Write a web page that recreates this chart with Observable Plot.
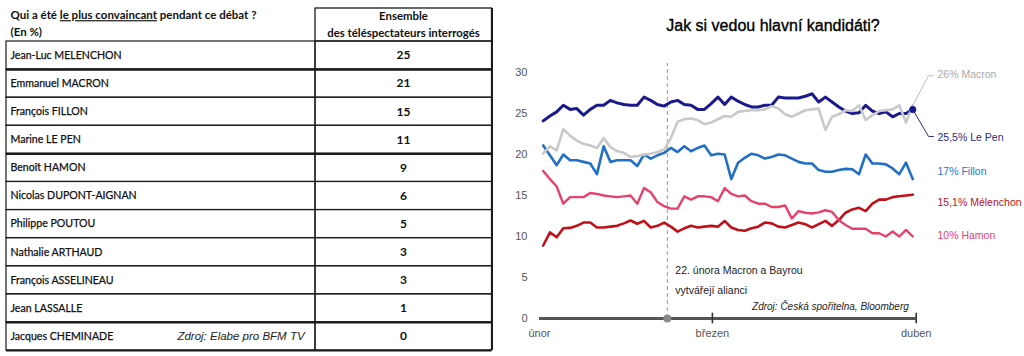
<!DOCTYPE html>
<html>
<head>
<meta charset="utf-8">
<script src="https://cdn.jsdelivr.net/npm/d3@7"></script>
<script src="https://cdn.jsdelivr.net/npm/@observablehq/plot@0.6"></script>
<style>
  html, body { margin: 0; padding: 0; background: #fff; }
  #wrap { position: relative; width: 1024px; height: 356px; overflow: hidden; background: #fff; }
  #tabulka { position: absolute; left: 0; top: 0; }
  #graf { position: absolute; left: 500px; top: 0; width: 524px; height: 356px; }
  #titulek { position: absolute; left: 0; top: 17px; width: 546px; text-align: center;
             font: 16px "Liberation Sans", Arial, sans-serif; color: #000; -webkit-text-stroke: 0.35px #000; }
  #grafSvg { position: absolute; left: 0; top: 52px; }
</style>
</head>
<body>
<div id="wrap">
  <div id="tabulka"></div>
  <div id="graf">
    <div id="titulek">Jak si vedou hlavní kandidáti?</div>
    <div id="grafSvg"></div>
  </div>
</div>
<script>
// ---------- Tabulka (Elabe pro BFM TV) ----------
const kandidati = ["Jean-Luc MELENCHON", "Emmanuel MACRON", "François FILLON", "Marine LE PEN",
  "Benoît HAMON", "Nicolas DUPONT-AIGNAN", "Philippe POUTOU", "Nathalie ARTHAUD",
  "François ASSELINEAU", "Jean LASSALLE", "Jacques CHEMINADE"];
const hodnoty = [25, 21, 15, 11, 9, 6, 5, 3, 3, 1, 0];
const otazka = "Qui a été le plus convaincant pendant ce débat ?";
const jednotka = "(En %)";
const hlavickaSloupce = ["Ensemble", "des téléspectateurs interrogés"];
const zdrojTabulky = "Zdroj: Elabe pro BFM TV";

// ---------- Graf (Česká spořitelna, Bloomberg) ----------
const mesiceTicks = [0, 28, 61];
const mesice = ["únor", "březen", "duben"];
const dny = [0.6, 1.69, 2.78, 3.86, 4.95, 6.04, 7.13, 8.22, 9.30, 10.39,
  11.48, 12.57, 13.66, 14.74, 15.83, 16.92, 18.01, 19.10, 20.18, 21.27,
  22.36, 23.45, 24.54, 25.62, 26.71, 27.80, 28.89, 29.98, 31.06, 32.15,
  33.24, 34.33, 35.42, 36.50, 37.59, 38.68, 39.77, 40.86, 41.94, 43.03,
  44.12, 45.21, 46.30, 47.38, 48.47, 49.56, 50.65, 51.74, 52.82, 53.91,
  55.00, 56.09, 57.18, 58.26, 59.35, 60.44];
const lePen = [24.1, 24.7, 25.2, 26.0, 25.5, 25.6, 24.8, 25.5, 26.0, 26.0,
  26.6, 26.3, 26.1, 26.0, 26.0, 27.0, 26.6, 26.1, 25.9, 26.4,
  26.6, 26.1, 26.0, 25.5, 25.5, 26.2, 27.0, 26.1, 27.0, 26.5,
  26.1, 25.8, 25.8, 26.0, 26.0, 27.0, 26.9, 26.9, 26.9, 27.1,
  27.4, 26.4, 27.0, 26.4, 25.8, 25.3, 25.0, 25.1, 26.0, 25.3,
  25.0, 25.2, 24.6, 25.0, 25.0, 25.5];
const macron = [20.1, 21.0, 20.5, 23.1, 22.3, 21.7, 21.3, 21.1, 20.8, 22.0,
  20.9, 20.4, 20.2, 19.7, 19.8, 20.0, 20.1, 20.3, 20.6, 22.0,
  24.0, 24.3, 24.4, 24.2, 23.7, 23.9, 24.3, 24.7, 24.6, 25.2,
  25.3, 25.4, 25.4, 25.5, 25.9, 25.6, 24.9, 24.6, 25.0, 25.4,
  25.5, 25.6, 23.0, 24.6, 24.9, 25.4, 25.3, 26.0, 24.2, 24.8,
  25.3, 25.4, 25.5, 26.0, 23.9, 26.0];
const fillon = [21.1, 19.9, 18.7, 20.0, 19.3, 19.3, 19.1, 18.9, 17.6, 21.0,
  19.1, 19.3, 19.3, 19.3, 18.6, 20.0, 19.5, 19.9, 20.2, 20.8,
  20.3, 21.0, 20.4, 20.8, 21.1, 19.9, 20.1, 20.0, 17.0, 19.0,
  19.6, 20.1, 19.9, 19.5, 19.7, 20.0, 19.9, 19.5, 19.1, 18.9,
  18.9, 18.1, 17.9, 17.9, 18.1, 18.25, 18.2, 17.6, 20.0, 18.9,
  18.9, 18.8, 18.3, 17.6, 19.0, 17.0];
const hamon = [18.0, 17.0, 16.1, 14.0, 14.8, 14.8, 14.8, 15.3, 15.2, 15.0,
  14.9, 14.8, 14.9, 15.0, 14.0, 15.9, 15.4, 14.2, 13.7, 13.4,
  13.4, 14.9, 14.5, 14.9, 14.9, 14.8, 14.3, 15.9, 15.2, 14.9,
  15.0, 14.3, 14.0, 14.0, 13.6, 13.6, 13.8, 12.2, 13.1, 12.9,
  12.8, 12.95, 13.2, 13.0, 12.0, 11.4, 10.95, 10.95, 10.95, 10.4,
  10.4, 10.0, 10.6, 10.0, 10.8, 10.0];
const melenchon = [8.9, 10.5, 9.9, 11.0, 11.05, 11.3, 11.7, 11.7, 11.1, 11.1,
  11.2, 11.3, 11.6, 11.95, 11.55, 11.9, 11.1, 11.3, 11.7, 11.2,
  10.6, 11.0, 11.3, 11.1, 11.2, 11.3, 11.2, 11.9, 11.1, 10.8,
  10.7, 11.0, 11.2, 11.7, 11.6, 11.2, 11.1, 11.4, 11.7, 11.5,
  11.1, 11.5, 11.9, 11.3, 12.0, 12.9, 13.3, 13.5, 13.1, 14.0,
  14.5, 14.5, 14.8, 14.9, 15.0, 15.1];
const jmena = ["Macron", "Le Pen", "Fillon", "Mélenchon", "Hamon"];
const udalost = ["22. února Macron a Bayrou", "vytvářejí alianci"];
const zdrojGrafu = "Zdroj: Česká spořitelna, Bloomberg";

// ===== Tabulka jako Plot =====
const tableFont = "Lato, 'Open Sans', sans-serif";
const colX = 0.6365, valX = 0.8177;
const tab = Plot.plot({
  width: 500, height: 356,
  marginLeft: 6, marginRight: 8.5, marginTop: 8, marginBottom: 6,
  style: {fontFamily: tableFont, fontSize: "11px", color: "#111", background: "#fff"},
  x: {domain: [0, 1], axis: null},
  y: {domain: [-1.175, 11], reverse: true, axis: null},
  marks: [
    Plot.rect(kandidati, {x1: 0, x2: colX, y1: (d, i) => i, y2: (d, i) => i + 1, fill: "none", stroke: "#1a1a1a", strokeWidth: 1.2}),
    Plot.rect(kandidati, {x1: colX, x2: 1, y1: (d, i) => i, y2: (d, i) => i + 1, fill: "none", stroke: "#1a1a1a", strokeWidth: 1.2}),
    Plot.rect([0], {x1: colX, x2: 1, y1: -1.175, y2: 0, fill: "none", stroke: "#1a1a1a", strokeWidth: 1.3}),
    Plot.ruleY([1, 4, 10, 11], {x1: 0, x2: 1, stroke: "#1a1a1a", strokeWidth: 2.2}),
    Plot.ruleX([1], {y1: -1.175, y2: 11, stroke: "#1a1a1a", strokeWidth: 2}),
    Plot.text(kandidati, {x: 0, y: (d, i) => i + 0.5, text: d => d, textAnchor: "start", dx: 4, fill: "#111", stroke: "#111", strokeWidth: 0.25, fontSize: 10.6}),
    Plot.text(hodnoty, {x: valX, y: (d, i) => i + 0.5, text: d => String(d), fontWeight: "bold", fill: "#111", fontSize: 12}),
    Plot.text([otazka, jednotka], {x: 0, y: (d, i) => i === 0 ? -0.926 : -0.32, text: d => d, textAnchor: "start", dx: 4, fontWeight: "bold", fill: "#111", fontSize: 11.5}),
    Plot.text(hlavickaSloupce, {x: valX, y: (d, i) => i === 0 ? -0.89 : -0.285, text: d => d, fontWeight: "bold", fill: "#111", fontSize: 11.4}),
    Plot.text([zdrojTabulky], {x: 0.352, y: 10.5, text: d => d, textAnchor: "start", fontStyle: "italic", fontFamily: "'Liberation Sans', Arial, sans-serif", fontSize: 11.5, fill: "#222"})
  ]
});
document.getElementById("tabulka").appendChild(tab);
// underline "le plus convaincant"
tab.querySelectorAll("text").forEach(t => {
  if (t.textContent === otazka) {
    const part = "le plus convaincant";
    const idx = otazka.indexOf(part);
    const ns = "http://www.w3.org/2000/svg";
    t.textContent = "";
    [[otazka.slice(0, idx), false], [part, true], [otazka.slice(idx + part.length), false]].forEach(([s, u]) => {
      const ts = document.createElementNS(ns, "tspan");
      ts.textContent = s;
      if (u) ts.setAttribute("text-decoration", "underline");
      t.appendChild(ts);
    });
  }
});

// ===== Graf =====
const serie = [
  {jmeno: "Mélenchon", hodnoty: melenchon, barva: "#c0111b", sirka: 2.6, popisY: 14.15, popisBarva: "#c0111b"},
  {jmeno: "Hamon", hodnoty: hamon, barva: "#e8426c", sirka: 2.4, popisY: 10.1, popisBarva: "#e8426c"},
  {jmeno: "Fillon", hodnoty: fillon, barva: "#2170c6", sirka: 2.6, popisY: 17.9, popisBarva: "#2a72c6"},
  {jmeno: "Le Pen", hodnoty: lePen, barva: "#1b1a8c", sirka: 3, popisY: 22.07, popisBarva: "#2b2a8a"},
  {jmeno: "Macron", hodnoty: macron, barva: "#c9c9c9", sirka: 2.6, popisY: 29.76, popisBarva: "#aaaaaa"}
];
const fmt = v => (Math.round(v * 10) / 10).toString().replace(".", ",");
const last = dny.length - 1;
const font = "'Liberation Sans', Arial, sans-serif";

const marks = [
  Plot.ruleX([20.7], {y1: 0, y2: 31.1, stroke: "#999", strokeDasharray: "4,3", strokeWidth: 1}),
  Plot.ruleY([0], {x1: 0, x2: 61, stroke: "#555", strokeWidth: 3}),
  Plot.ruleX([28, 61], {y1: -0.65, y2: 0.65, stroke: "#333", strokeWidth: 1.6}),
  Plot.dot([20.7], {x: d => d, y: 0, r: 4, fill: "#8a8a8a", stroke: "none"})
];
serie.forEach(s => {
  marks.push(Plot.line(dny.map((d, i) => ({den: d, v: s.hodnoty[i]})), {
    x: "den", y: "v", stroke: s.barva, strokeWidth: s.sirka, strokeLinejoin: "round", strokeLinecap: "round"
  }));
});
// leader lines
marks.push(Plot.line([[dny[last], macron[last]], [63.0, 29.6], [63.8, 29.6]], {stroke: "#bbb", strokeWidth: 1}));
marks.push(Plot.line([[dny[last], lePen[last]], [63.0, 22.2], [63.8, 22.2]], {stroke: "#2b2a8a", strokeWidth: 1}));
marks.push(Plot.dot([[dny[last], lePen[last]]], {r: 3.5, fill: "#1b1a8c", stroke: "none"}));
// right labels
marks.push(Plot.text(serie, {
  x: 64.45, y: "popisY", text: s => `${fmt(s.hodnoty[last])}% ${s.jmeno}`,
  fill: "popisBarva", textAnchor: "start", fontSize: 10.5
}));
marks.push(Plot.text(udalost, {x: 22.0, y: (d, i) => i === 0 ? 5.85 : 3.4, text: d => d, textAnchor: "start", fill: "#222", fontSize: 10.5}));
marks.push(Plot.text([zdrojGrafu], {x: 59.8, y: 1.46, text: d => d, textAnchor: "end", fill: "#222", fontStyle: "italic", fontSize: 10}));

const graf = Plot.plot({
  width: 524, height: 304,
  marginLeft: 39, marginRight: 108.3, marginTop: 20, marginBottom: 38,
  style: {fontFamily: font, fontSize: "11px", color: "#555", background: "transparent", overflow: "visible"},
  x: {domain: [0, 61], ticks: mesiceTicks, tickFormat: d => mesice[mesiceTicks.indexOf(d)], tickSize: 0, tickPadding: 11, label: null},
  y: {domain: [0, 30], ticks: [0, 5, 10, 15, 20, 25, 30], tickSize: 0, tickPadding: 12, label: null},
  color: {type: "identity"},
  marks
});
document.getElementById("grafSvg").appendChild(graf);
</script>
</body>
</html>
